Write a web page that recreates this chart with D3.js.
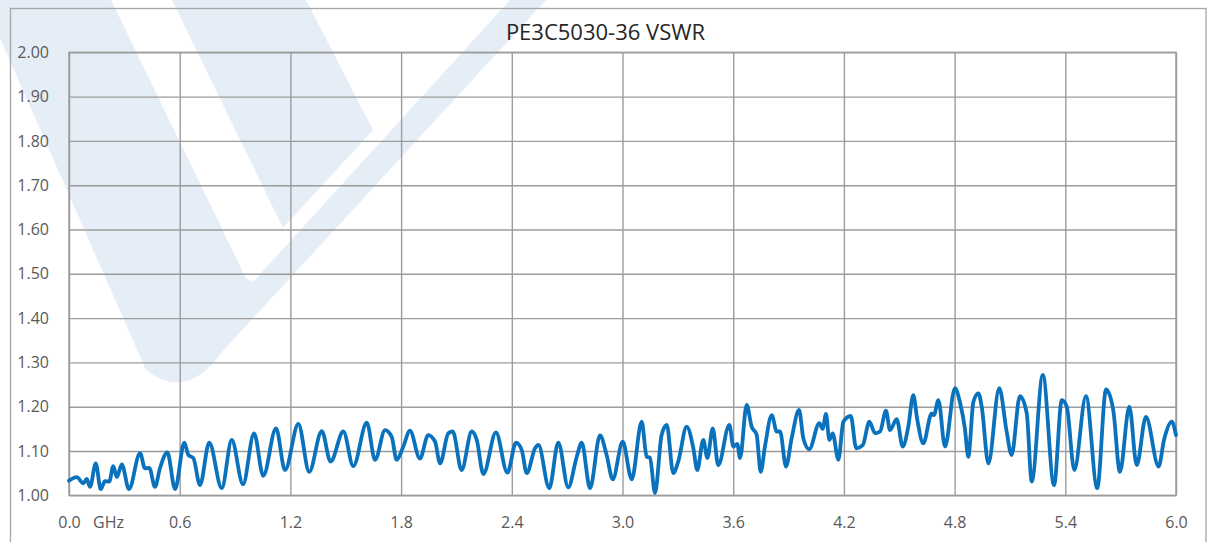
<!DOCTYPE html>
<html>
<head>
<meta charset="utf-8">
<script src="https://cdn.jsdelivr.net/npm/d3@7"></script>
<style>
  html, body { margin: 0; padding: 0; background: #fff; }
  svg { display: block; }
  text { font-family: "Open Sans", "Noto Sans", sans-serif; }
</style>
</head>
<body>
<svg id="chart" width="1212" height="542"></svg>
<script>
// ---- data ----
const chartTitle = "PE3C5030-36 VSWR";
const freqGHz = [
  0.000,0.042,0.078,0.096,0.114,0.145,0.172,0.195,0.218,0.240,0.259,0.286,0.325,0.385,0.412,0.435,0.466,0.493,0.533,0.575,
  0.625,0.647,0.674,0.710,0.760,0.828,0.882,0.943,1.003,1.053,1.122,1.171,1.243,1.302,1.370,1.418,1.487,1.541,1.614,1.659,
  1.713,1.749,1.776,1.812,1.848,1.902,1.947,1.984,2.011,2.056,2.080,2.128,2.183,2.210,2.246,2.314,2.376,2.423,2.454,2.481,
  2.526,2.544,2.603,2.652,2.706,2.752,2.779,2.824,2.878,2.914,2.947,3.001,3.050,3.104,3.131,3.149,3.176,3.212,3.240,3.275,
  3.302,3.348,3.384,3.405,3.438,3.460,3.489,3.519,3.579,3.601,3.622,3.637,3.673,3.700,3.727,3.749,3.772,3.809,3.836,3.854,
  3.886,3.917,3.957,3.980,4.012,4.067,4.085,4.103,4.121,4.139,4.170,4.197,4.237,4.267,4.302,4.338,4.369,4.396,4.428,4.450,
  4.486,4.519,4.549,4.576,4.598,4.630,4.676,4.688,4.712,4.748,4.802,4.829,4.856,4.874,4.902,4.929,4.947,4.983,5.042,5.082,
  5.109,5.154,5.191,5.218,5.278,5.339,5.381,5.408,5.449,5.512,5.573,5.621,5.660,5.696,5.747,5.787,5.837,5.906,5.935,5.977,
  6.000
];
const vswr = [
  1.033,1.041,1.027,1.037,1.019,1.072,1.014,1.032,1.031,1.066,1.041,1.070,1.014,1.095,1.061,1.062,1.019,1.061,1.097,1.014,
  1.119,1.091,1.084,1.023,1.119,1.016,1.125,1.025,1.140,1.044,1.151,1.057,1.161,1.053,1.145,1.076,1.144,1.066,1.164,1.080,
  1.147,1.132,1.080,1.110,1.146,1.083,1.136,1.121,1.072,1.140,1.144,1.057,1.144,1.125,1.048,1.142,1.051,1.119,1.102,1.050,
  1.106,1.114,1.016,1.119,1.018,1.087,1.119,1.016,1.135,1.091,1.036,1.121,1.036,1.166,1.087,1.085,1.005,1.136,1.159,1.050,
  1.076,1.155,1.106,1.057,1.125,1.084,1.151,1.068,1.159,1.110,1.116,1.084,1.204,1.155,1.137,1.053,1.110,1.181,1.144,1.144,
  1.065,1.129,1.193,1.129,1.104,1.163,1.150,1.184,1.125,1.140,1.080,1.166,1.179,1.106,1.113,1.166,1.140,1.144,1.191,1.147,
  1.172,1.110,1.155,1.226,1.170,1.117,1.185,1.181,1.215,1.110,1.242,1.210,1.150,1.087,1.211,1.230,1.200,1.072,1.242,1.144,
  1.091,1.224,1.185,1.031,1.272,1.023,1.215,1.200,1.057,1.224,1.016,1.239,1.192,1.053,1.200,1.068,1.177,1.065,1.125,1.166,
  1.136
];
const xTicks = [0.0,0.6,1.2,1.8,2.4,3.0,3.6,4.2,4.8,5.4,6.0];
const yTicks = [1.00,1.10,1.20,1.30,1.40,1.50,1.60,1.70,1.80,1.90,2.00];
const xUnit = "GHz";

// ---- layout ----
const svg = d3.select("#chart");
const plot = { left: 69, right: 1176, top: 52.3, bottom: 495.3 };
const x = d3.scaleLinear().domain([0, 6]).range([plot.left, plot.right]);
const y = d3.scaleLinear().domain([1, 2]).range([plot.bottom, plot.top]);
const gridColor = "#9c9c9c";
const labelColor = "#595959";

// watermark (faint logo behind the chart)
const wm = svg.append("g").attr("fill", "#e5edf7");
wm.append("path").attr("d",
  "M0,0 L111,0 L241,268 Q249,292 262,272 L510,0 L546,0 L222,352 Q186,402 146,370 L0,38 Z");
wm.append("path").attr("d", "M172,0 L306,0 L373,130 L283,228 Z");

// outer frame
svg.append("rect")
  .attr("x", 10.5).attr("y", 8.5).attr("width", 1195.5).attr("height", 560)
  .attr("fill", "none").attr("stroke", "#a6a6a6").attr("stroke-width", 1.3);

// y axis + horizontal grid
const yAxis = svg.append("g")
  .attr("transform", `translate(${plot.left},0)`)
  .call(d3.axisLeft(y).tickValues(yTicks).tickFormat(d3.format(".2f"))
        .tickSize(-(plot.right - plot.left)).tickPadding(20));
yAxis.select(".domain").remove();
yAxis.selectAll("line").attr("stroke", gridColor).attr("stroke-width", 1.4);
yAxis.selectAll("text").attr("fill", labelColor).style("font-size", "16px");

// x axis + vertical grid
const xAxis = svg.append("g")
  .attr("transform", `translate(0,${plot.bottom})`)
  .call(d3.axisBottom(x).tickValues(xTicks).tickFormat(d3.format(".1f"))
        .tickSize(-(plot.bottom - plot.top)).tickPadding(21.6));
xAxis.select(".domain").remove();
xAxis.selectAll("line").attr("stroke", gridColor).attr("stroke-width", 1.4);
xAxis.selectAll("text").attr("fill", labelColor).style("font-size", "16px");

svg.append("text")
  .attr("x", 93).attr("y", 528.3)
  .attr("fill", labelColor).style("font-size", "16px")
  .text(xUnit);

// plot frame
svg.append("rect")
  .attr("x", plot.left).attr("y", plot.top)
  .attr("width", plot.right - plot.left).attr("height", plot.bottom - plot.top)
  .attr("fill", "none").attr("stroke", gridColor).attr("stroke-width", 1.4);

// title
svg.append("text")
  .attr("x", 605.5).attr("y", 40)
  .attr("text-anchor", "middle")
  .attr("fill", "#262626").style("font-size", "22px")
  .text(chartTitle);

// series line
const pts = freqGHz.map((f, i) => [f, vswr[i]]);
const line = d3.line().x(d => x(d[0])).y(d => y(d[1])).curve(d3.curveMonotoneX);
svg.append("path")
  .datum(pts)
  .attr("d", line)
  .attr("fill", "none")
  .attr("stroke", "#0a72bd")
  .attr("stroke-width", 3.8)
  .attr("stroke-linejoin", "round")
  .attr("stroke-linecap", "round");
</script>
</body>
</html>
